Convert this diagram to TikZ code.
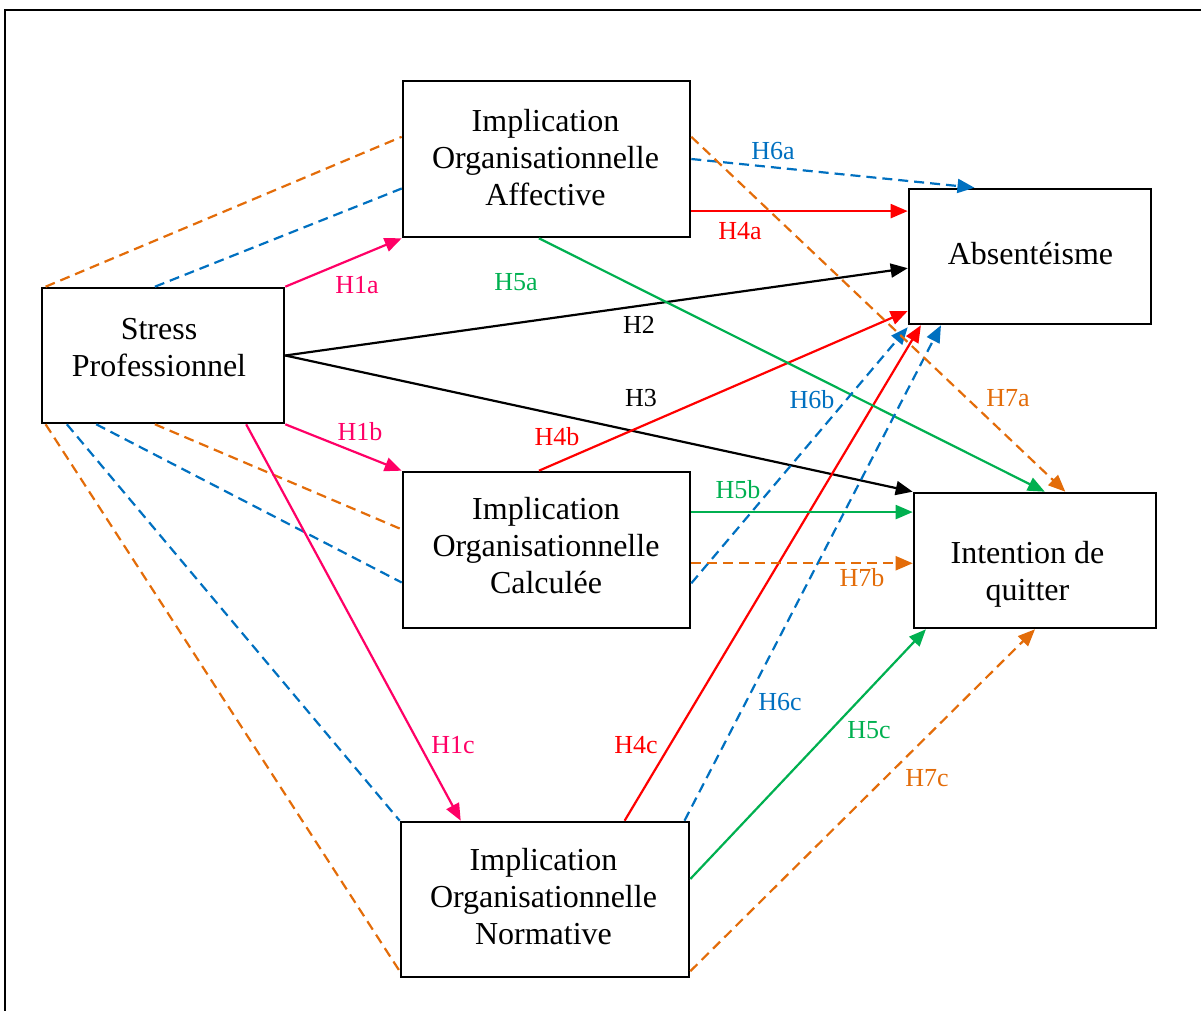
\documentclass[tikz,border=0pt]{standalone}
\usepackage{fontspec}
\setmainfont{Liberation Serif}
\usetikzlibrary{calc,arrows.meta}

\definecolor{hpink}{HTML}{FF0066}
\definecolor{hred}{HTML}{FF0000}
\definecolor{hgreen}{HTML}{00B050}
\definecolor{hblue}{HTML}{0070C0}
\definecolor{horange}{HTML}{E36C09}

\tikzset{
  box/.style={draw=black, line width=1.3pt, rectangle, inner sep=0pt},
  boxtext/.style={align=center, inner sep=0pt, font=\fontsize{16}{18.5}\selectfont},
  lbl/.style={inner sep=0pt, font=\fontsize{13}{15}\selectfont},
  conn/.style={line width=1.1pt, -{Triangle[length=8.5pt,width=7pt]}},
  link/.style={line width=1.1pt, dash pattern=on 5pt off 3pt},
  dlink/.style={link, -{Triangle[length=8.5pt,width=7pt]}},
}

\begin{document}
\begin{tikzpicture}[x=0.5pt,y=-0.5pt]
\useasboundingbox (0,0) rectangle (1201,1011);

% outer frame
\draw[line width=1.1pt] (5,1011) -- (5,10) -- (1201,10);

% boxes
\node[box, minimum width=121pt, minimum height=67.5pt] (s) at (163,355.5) {};
\node[box, minimum width=143.5pt, minimum height=78pt] (ia) at (546.5,159) {};
\node[box, minimum width=143.5pt, minimum height=78pt] (ic) at (546.5,550) {};
\node[box, minimum width=144pt, minimum height=77.5pt] (in) at (545,899.5) {};
\node[box, minimum width=121pt, minimum height=67.5pt] (ab) at (1030,256.5) {};
\node[box, minimum width=121pt, minimum height=67.5pt] (iq) at (1035,560.5) {};

% box texts
\node[boxtext] (ts) at (159,348) {Stress\\Professionnel};
\node[boxtext] (tia) at (545.5,158) {Implication\\Organisationnelle\\Affective};
\node[boxtext] (tic) at (546,546) {Implication\\Organisationnelle\\Calculée};
\node[boxtext] (tin) at (543.5,897) {Implication\\Organisationnelle\\Normative};
\node[boxtext] (tab) at (1030.5,254) {Absentéisme};
\node[boxtext] (tiq) at (1027.5,574.5) {Intention de\\quitter};

% end points on the box sides
\coordinate (ab4a) at ($(ab.north west)!0.17!(ab.south west)$);
\coordinate (iq5b) at ($(iq.north west)!0.148!(iq.south west)$);
\coordinate (iq7b) at ($(iq.north west)!0.52!(iq.south west)$);

% dashed links from stress to the three commitment boxes
\draw[link, horange] ($(s.north west)!0.02!(s.north east)$) -- ($(ia.north west)!0.36!(ia.south west)$);
\draw[link, hblue] ($(s.north west)!0.467!(s.north east)$) -- ($(ia.north west)!0.686!(ia.south west)$);
\draw[link, horange] ($(s.south west)!0.467!(s.south east)$) -- ($(ic.north west)!0.37!(ic.south west)$);
\draw[link, hblue] ($(s.south west)!0.227!(s.south east)$) -- ($(ic.north west)!0.705!(ic.south west)$);
\draw[link, hblue] ($(s.south west)!0.107!(s.south east)$) -- (in.north west);
\draw[link, horange] ($(s.south west)!0.02!(s.south east)$) -- ($(in.north west)!0.955!(in.south west)$);

% H1
\draw[conn, hpink] (s.north east) -- (ia.south west);
\draw[conn, hpink] (s.south east) -- (ic.north west);
\draw[conn, hpink] ($(s.south west)!0.84!(s.south east)$) -- ($(in.north west)!0.21!(in.north east)$);

% H2, H3
\draw[conn, black] (s.east) -- ($(ab.north west)!0.585!(ab.south west)$);
\draw[conn, black] (s.east) -- (iq.north west);

% H4
\draw[conn, hred] (ia.east |- ab4a) -- (ab4a);
\draw[conn, hred] ($(ic.north west)!0.474!(ic.north east)$) -- ($(ab.north west)!0.896!(ab.south west)$);
\draw[conn, hred] ($(in.north west)!0.774!(in.north east)$) -- ($(ab.south west)!0.054!(ab.south east)$);

% H5
\draw[conn, hgreen] ($(ia.south west)!0.474!(ia.south east)$) -- ($(iq.north west)!0.54!(iq.north east)$);
\draw[conn, hgreen] (ic.east |- iq5b) -- (iq5b);
\draw[conn, hgreen] ($(in.north east)!0.37!(in.south east)$) -- ($(iq.south west)!0.054!(iq.south east)$);

% H6
\draw[dlink, hblue] (ia.east) -- ($(ab.north west)!0.273!(ab.north east)$);
\draw[dlink, hblue] ($(ic.north east)!0.71!(ic.south east)$) -- ([yshift=-1pt]ab.south west);
\draw[dlink, hblue] ($(in.north west)!0.98!(in.north east)$) -- ($(ab.south west)!0.136!(ab.south east)$);

% H7
\draw[dlink, horange] ($(ia.north east)!0.36!(ia.south east)$) -- ($(iq.north west)!0.624!(iq.north east)$);
\draw[dlink, horange] (ic.east |- iq7b) -- (iq7b);
\draw[dlink, horange] ($(in.north east)!0.955!(in.south east)$) -- (iq.south);

% hypothesis labels
\node[lbl, hpink] (l1a) at (357,285) {H1a};
\node[lbl, hpink] (l1b) at (360,432) {H1b};
\node[lbl, hpink] (l1c) at (453,745) {H1c};
\node[lbl, black] (l2) at (639,325) {H2};
\node[lbl, black] (l3) at (641,398) {H3};
\node[lbl, hred] (l4a) at (740,231) {H4a};
\node[lbl, hred] (l4b) at (557,437) {H4b};
\node[lbl, hred] (l4c) at (636,745) {H4c};
\node[lbl, hgreen] (l5a) at (516,282) {H5a};
\node[lbl, hgreen] (l5b) at (738,490) {H5b};
\node[lbl, hgreen] (l5c) at (869,730) {H5c};
\node[lbl, hblue] (l6a) at (773,151) {H6a};
\node[lbl, hblue] (l6b) at (812,400) {H6b};
\node[lbl, hblue] (l6c) at (780,702) {H6c};
\node[lbl, horange] (l7a) at (1008,398) {H7a};
\node[lbl, horange] (l7b) at (862,578) {H7b};
\node[lbl, horange] (l7c) at (927,778) {H7c};
\end{tikzpicture}
\end{document}
